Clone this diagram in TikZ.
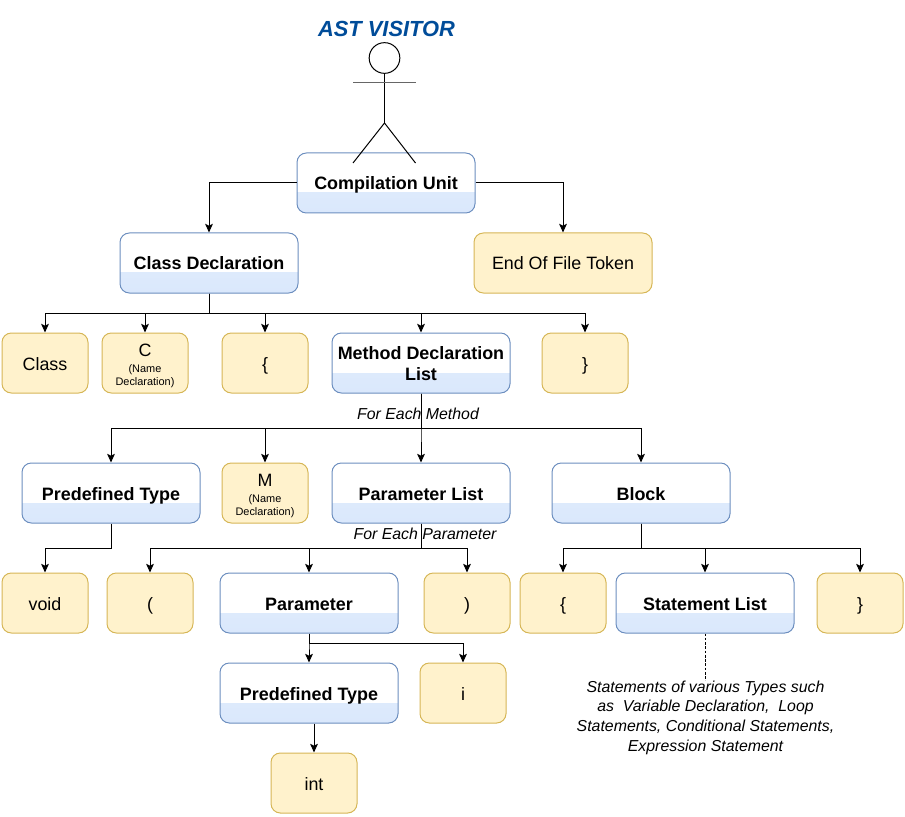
\documentclass[tikz,border=0pt]{standalone}
\usepackage{fontspec}
\setmainfont{Liberation Sans}
\usetikzlibrary{arrows.meta,calc}
\definecolor{bluefill}{HTML}{DAE8FC}
\definecolor{bluetop}{HTML}{E4EEFC}
\definecolor{blueline}{HTML}{6C8EBF}
\definecolor{yelfill}{HTML}{FFF2CC}
\definecolor{yelline}{HTML}{D6B656}
\definecolor{titleblue}{HTML}{004C99}
\newcommand{\tinyname}{\fontsize{8.2}{10.5}\selectfont}
\tikzset{
  blockbase/.style={rounded corners=7pt,line width=0.75pt,inner sep=0pt,align=center,text=black},
  oneline/.style={text height=11pt,text depth=0.5pt},
  bluebox/.style={blockbase,draw=blueline,fill=white,minimum width=133.5pt,minimum height=45pt,
    font=\fontsize{13.45}{15.8}\selectfont\bfseries,
    path picture={\fill[sharp corners,top color=bluetop,bottom color=bluefill]
      ($(path picture bounding box.south west)+(0pt,15pt)$) rectangle (path picture bounding box.south east);}},
  yelwide/.style={blockbase,draw=yelline,fill=yelfill,minimum width=133.5pt,minimum height=45pt,font=\fontsize{13.4}{15.8}\selectfont},
  yelbox/.style={blockbase,draw=yelline,fill=yelfill,minimum width=64.5pt,minimum height=45pt,font=\fontsize{13.4}{15.8}\selectfont},
  conn/.style={draw=black,line width=0.75pt,-{Stealth[length=6.5pt,width=5.8pt,inset=1.4pt]}},
  note/.style={font=\fontsize{11.9}{14.7}\selectfont\itshape,align=center,inner sep=0pt},
  stick/.style={draw=black,line width=0.75pt},
}
\begin{document}
\begin{tikzpicture}[x=0.75pt,y=-0.75pt]
\useasboundingbox (0,0) rectangle (905,816);

% nodes
\node[bluebox,oneline] (cu) at (386,183) {Compilation Unit};
\node[bluebox,oneline] (cd) at (209,263) {Class Declaration};
\node[yelwide,oneline] (eof) at (563,263) {End Of File Token};
\node[yelbox,oneline] (class) at (45,363) {Class};
\node[yelbox] (cname) at (145,363) {\rule{0pt}{14pt}C\\[-4.2pt]\tinyname (Name\\[-6pt]\tinyname Declaration)};
\node[yelbox,oneline] (lb1) at (265,363) {\{};
\node[bluebox] (mdl) at (421,363) {\rule{0pt}{11.2pt}Method Declaration\\List};
\node[yelbox,oneline] (rb1) at (585,363) {\}};
\node[bluebox,oneline] (pt1) at (111,493) {Predefined Type};
\node[yelbox] (mname) at (265,493) {\rule{0pt}{14pt}M\\[-4.2pt]\tinyname (Name\\[-6pt]\tinyname Declaration)};
\node[bluebox,oneline] (pl) at (421,493) {Parameter List};
\node[bluebox,oneline] (blk) at (641,493) {Block};
\node[yelbox,oneline] (void) at (45,603) {void};
\node[yelbox,oneline] (lp) at (150,603) {(};
\node[bluebox,oneline] (par) at (309,603) {Parameter};
\node[yelbox,oneline] (rp) at (467,603) {)};
\node[yelbox,oneline] (lb2) at (563,603) {\{};
\node[bluebox,oneline] (sl) at (705,603) {Statement List};
\node[yelbox,oneline] (rb2) at (860,603) {\}};
\node[bluebox,oneline] (pt2) at (309,693) {Predefined Type};
\node[yelbox,oneline] (ivar) at (463,693) {i};
\node[yelbox,oneline] (intt) at (314,783) {int};

% labels
\node[inner sep=0pt,font=\fontsize{16.4}{18}\selectfont\bfseries\itshape,text=titleblue] (title) at (386.5,28.5) {AST VISITOR};
\node[note] (fem) at (418,414) {For Each Method};
\node[note] (fep) at (425,534) {For Each Parameter};
\node[note] (stm) at (705.5,717.5) {Statements of various Types such\\as\ \ Variable Declaration,\ \ Loop\\Statements, Conditional Statements,\\Expression Statement};

% connectors
\draw[conn] (cu.west) -| (cd.north);
\draw[conn] (cu.east) -| (eof.north);
\foreach \t in {class,cname,lb1,mdl,rb1}
  \draw[conn] (cd.south) -- ++(0,20) -| (\t.north);
\foreach \t in {pt1,mname,pl,blk}
  \draw[conn] (mdl.south) -- ++(0,35) -| (\t.north);
\draw[conn] (pt1.south) -- ++(0,25) -| (void.north);
\foreach \t in {lp,par,rp}
  \draw[conn] (pl.south) -- ++(0,25) -| (\t.north);
\foreach \t in {lb2,sl,rb2}
  \draw[conn] (blk.south) -- ++(0,25) -| (\t.north);
\foreach \t in {pt2,ivar}
  \draw[conn] (par.south) -- ++(0,10) -| (\t.north);
\draw[conn] (intt.north |- pt2.south) -- (intt.north);
\draw[line width=0.75pt,dash pattern=on 2pt off 1.2pt] (sl.south) -- (stm.north -| sl.south);

% actor
\coordinate (hip) at (384.5,123);
\coordinate (footl) at (353,163);
\coordinate (footr) at (415.5,163);
\node[draw=black,line width=0.75pt,fill=white,circle,minimum size=23pt,inner sep=0pt] (head) at (384.5,58) {};
\draw[stick] (head.south) -- (hip);
\draw[line width=0.75pt,draw=black!60] (353,83) -- (415.5,83);
\draw[stick] (footl) -- (hip) -- (footr);
\end{tikzpicture}
\end{document}
